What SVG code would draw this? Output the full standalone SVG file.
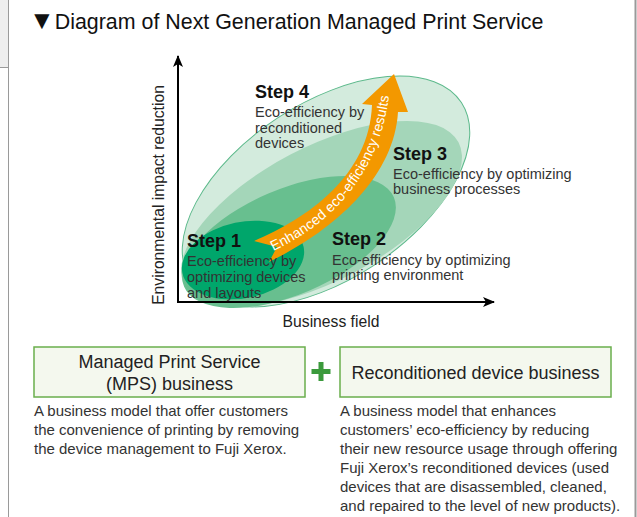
<svg xmlns="http://www.w3.org/2000/svg" width="637" height="517" viewBox="0 0 637 517">
  <style>
    .title { font-family: "Liberation Sans", Arial, sans-serif; font-size: 21.4px; fill: #111; }
    .axis-label { font-family: "Liberation Sans", Arial, sans-serif; font-size: 15.7px; fill: #222; }
    .step { font-family: "Liberation Sans", Arial, sans-serif; font-size: 18px; font-weight: bold; fill: #111; }
    .desc { font-family: "Liberation Sans", Arial, sans-serif; font-size: 14.5px; fill: #333; }
    .box { fill: #f4f8ee; stroke: #6aae4c; stroke-width: 1.5; }
    .box-text { font-family: "Liberation Sans", Arial, sans-serif; font-size: 18px; fill: #222; text-anchor: middle; }
    .note { font-family: "Liberation Sans", Arial, sans-serif; font-size: 15px; fill: #333; }
    .axis { stroke: #000; stroke-width: 2; fill: none; }
    .frame { stroke: #9a9a9a; stroke-width: 1; fill: none; }
  </style>
  <defs>
    <marker id="axisHead" viewBox="0 0 12 10" refX="11" refY="5" markerWidth="12" markerHeight="10" markerUnits="userSpaceOnUse" orient="auto">
      <path d="M0,0 L12,5 L0,10 L3,5 z" fill="#000"/>
    </marker>
    <path id="arrowCenter" d="M 264,250 C 319,226 381,177 386,76"/>
  </defs>

  <!-- page frame -->
  <rect x="0" y="0" width="637" height="517" fill="#fff"/>
  <rect x="0" y="0" width="8.5" height="67.5" fill="#eeeeee"/>
  <line class="frame" x1="0" y1="67.5" x2="8.5" y2="67.5"/>
  <line class="frame" x1="8.5" y1="0" x2="8.5" y2="517"/>
  <line x1="635.5" y1="0" x2="635.5" y2="517" stroke="#9a9a9a" stroke-width="2"/>

  <!-- heading -->
  <text class="title" x="29" y="29"><tspan font-size="26px">▼</tspan>Diagram of Next Generation Managed Print Service</text>

  <!-- nested scope ellipses -->
  <g id="step4">
    <ellipse cx="326" cy="191.5" rx="162" ry="88" transform="rotate(-33.3 326 191.5)" fill="#d3ebdd" stroke="#5cb98b" stroke-width="1"/>
  </g>
  <g id="step3">
    <ellipse cx="321.5" cy="214" rx="154.6" ry="67" transform="rotate(-27.6 321.5 214)" fill="#a4d6b9"/>
  </g>
  <g id="step2">
    <ellipse cx="289" cy="242" rx="114" ry="52.7" transform="rotate(-23.1 289 242)" fill="#68bf8f"/>
  </g>
  <g id="step1">
    <ellipse cx="243" cy="260" rx="62" ry="38" transform="rotate(-12 243 260)" fill="#00a66b"/>
  </g>

  <!-- axes -->
  <g id="axes">
    <line class="axis" x1="178" y1="303" x2="178" y2="56" marker-end="url(#axisHead)"/>
    <line class="axis" x1="177" y1="302" x2="494" y2="302" marker-end="url(#axisHead)"/>
    <text class="axis-label" transform="translate(163.5 195) rotate(-90)" text-anchor="middle">Environmental impact reduction</text>
    <text class="axis-label" x="331" y="327" text-anchor="middle">Business field</text>
  </g>

  <!-- progression arrow -->
  <g id="connectors">
    <path d="M 254,241 C 308,218 369,176 372,105 L 362,104 L 394,74 L 408,112 L 398,112 C 394,178 333,231 269,262 L 277,247 Z" fill="#f39800"/>
    <text font-family="'Liberation Sans', Arial, sans-serif" font-size="14" fill="#fff" dy="4.8">
      <textPath href="#arrowCenter" startOffset="8">Enhanced eco-efficiency results</textPath>
    </text>
  </g>

  <!-- step captions -->
  <g id="step4-label">
    <text class="step" x="255" y="98">Step 4</text>
    <text class="desc" x="255" y="117">Eco-efficiency by</text>
    <text class="desc" x="255" y="133">reconditioned</text>
    <text class="desc" x="255" y="148">devices</text>
  </g>
  <g id="step3-label">
    <text class="step" x="393" y="160">Step 3</text>
    <text class="desc" x="393" y="179">Eco-efficiency by optimizing</text>
    <text class="desc" x="393" y="194">business processes</text>
  </g>
  <g id="step2-label">
    <text class="step" x="332" y="245">Step 2</text>
    <text class="desc" x="332" y="265">Eco-efficiency by optimizing</text>
    <text class="desc" x="332" y="280">printing environment</text>
  </g>
  <g id="step1-label">
    <text class="step" x="187" y="247">Step 1</text>
    <text class="desc" x="187" y="266">Eco-efficiency by</text>
    <text class="desc" x="187" y="282">optimizing devices</text>
    <text class="desc" x="187" y="298">and layouts</text>
  </g>

  <!-- business model boxes -->
  <g id="mps">
    <rect class="box" x="34" y="347" width="271" height="50"/>
    <text class="box-text" x="169.5" y="368">Managed Print Service</text>
    <text class="box-text" x="169.5" y="390">(MPS) business</text>
  </g>
  <g id="plus">
    <rect x="318.5" y="362" width="5" height="19" fill="#3b9a3c"/>
    <rect x="311.5" y="369" width="19" height="5" fill="#3b9a3c"/>
  </g>
  <g id="reconditioned">
    <rect class="box" x="340" y="347" width="271" height="50"/>
    <text class="box-text" x="475.5" y="379">Reconditioned device business</text>
  </g>

  <g id="mps-note">
    <text class="note" x="34" y="416">A business model that offer customers</text>
    <text class="note" x="34" y="435">the convenience of printing by removing</text>
    <text class="note" x="34" y="454">the device management to Fuji Xerox.</text>
  </g>
  <g id="reconditioned-note">
    <text class="note" x="340" y="416">A business model that enhances</text>
    <text class="note" x="340" y="435">customers’ eco-efficiency by reducing</text>
    <text class="note" x="340" y="454">their new resource usage through offering</text>
    <text class="note" x="340" y="473">Fuji Xerox’s reconditioned devices (used</text>
    <text class="note" x="340" y="492">devices that are disassembled, cleaned,</text>
    <text class="note" x="340" y="511">and repaired to the level of new products).</text>
  </g>
</svg>
